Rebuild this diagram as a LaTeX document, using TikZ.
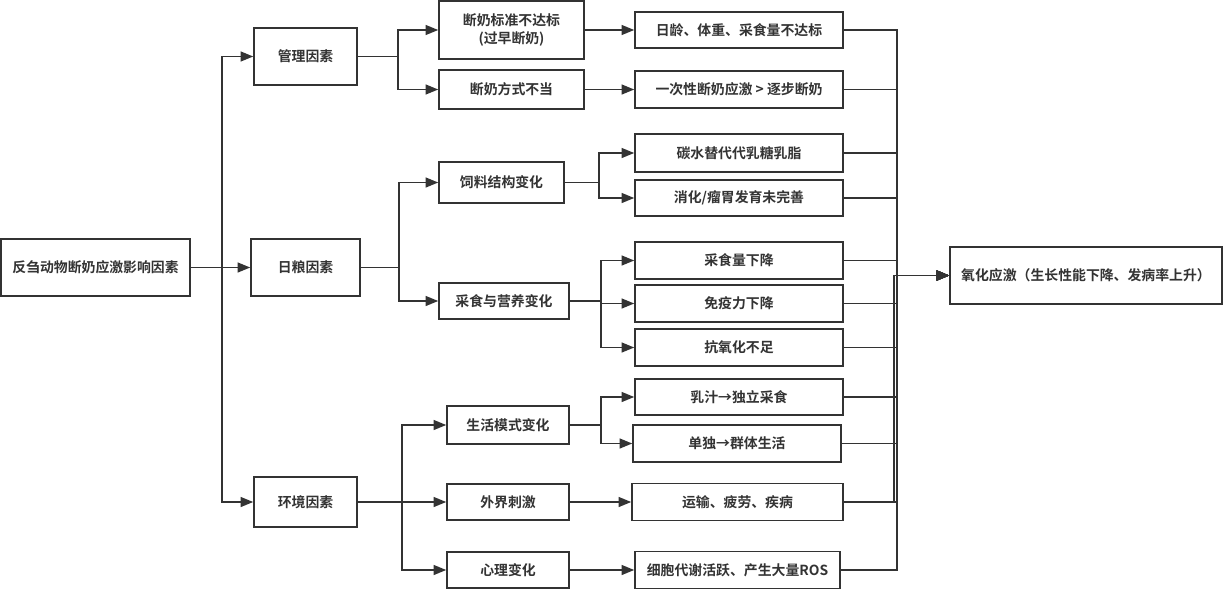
\documentclass[tikz,border=0pt]{standalone}
\usepackage{fontspec}
\setmainfont{Noto Sans CJK SC}[BoldFont={Noto Sans CJK SC Bold}]
\usetikzlibrary{arrows.meta}
\definecolor{ln}{HTML}{333333}
\tikzset{
 box/.style={draw=ln, line width=1.2pt, fill=white, inner sep=0pt, align=center,
   font=\bfseries\fontsize{10.4pt}{13pt}\selectfont, text=ln},
 wh/.style 2 args={minimum width=#1*0.75pt, minimum height=#2*0.75pt},
 conn/.style={draw=ln, line width=1.1pt},
 arr/.style={conn, -{Triangle[length=9.5pt,width=7.5pt]}},
}
\begin{document}
\begin{tikzpicture}[x=0.75pt,y=-0.75pt]
\useasboundingbox (0,0) rectangle (1224,589);
% nodes
\node[box, wh={189}{57}] (root) at (95.5,267.5) {反刍动物断奶应激影响因素};
\node[box, wh={103}{57}] (gl) at (305.5,56.5) {管理因素};
\node[box, wh={109}{57}] (rl) at (305.5,267.5) {日粮因素};
\node[box, wh={103}{50}] (hj) at (305.5,502) {环境因素};
\node[box, wh={145}{58}] (m1) at (511.5,30) {断奶标准不达标\\(过早断奶)};
\node[box, wh={145}{39}] (m2) at (511.5,89.5) {断奶方式不当};
\node[box, wh={125}{41}] (f1) at (501.5,182.5) {饲料结构变化};
\node[box, wh={130}{36}] (f2) at (504,301) {采食与营养变化};
\node[box, wh={122}{38}] (e1) at (508,425) {生活模式变化};
\node[box, wh={122}{36}] (e2) at (508,502) {外界刺激};
\node[box, wh={122}{36}] (e3) at (508,570) {心理变化};
\node[box, wh={208}{36}] (r1) at (739,30) {日龄、体重、采食量不达标};
\node[box, wh={208}{37}] (r2) at (739,89.5) {一次性断奶应激 > 逐步断奶};
\node[box, wh={208}{38}] (r3) at (739,153) {碳水替代代乳糖乳脂};
\node[box, wh={208}{36}] (r4) at (739,198) {消化/瘤胃发育未完善};
\node[box, wh={208}{37}] (r5) at (739,260.5) {采食量下降};
\node[box, wh={208}{37}] (r6) at (739,303.5) {免疫力下降};
\node[box, wh={208}{37}] (r7) at (739,347.5) {抗氧化不足};
\node[box, wh={208}{36}] (r8) at (739,397) {乳汁→独立采食};
\node[box, wh={208}{37}] (r9) at (737,443.5) {单独→群体生活};
\node[box, wh={211}{37}] (r10) at (737.5,502) {运输、疲劳、疾病};
\node[box, wh={205}{37}] (r11) at (737.5,570) {细胞代谢活跃、产生大量ROS};
\node[box, wh={272}{57}] (res) at (1086,275.5) {氧化应激（生长性能下降、发病率上升）};
% split coordinates
\coordinate (s0) at (222,0);
\coordinate (s1) at (398,0);
\coordinate (s2) at (399,0);
\coordinate (s3) at (402,0);
\coordinate (s4) at (599,0);
\coordinate (s5) at (601,0);
\coordinate (bus) at (897,0);
\coordinate (bus2) at (894,0);
% level 1
\draw[arr] (root.east) -- (s0 |- root.east) |- (gl.west);
\draw[arr] (root.east) -- (rl.west);
\draw[arr] (root.east) -- (s0 |- root.east) |- (hj.west);
% level 2
\draw[arr] (gl.east) -- (s1 |- gl.east) |- (m1.west);
\draw[arr] (gl.east) -- (s1 |- gl.east) |- (m2.west);
\draw[arr] (rl.east) -- (s2 |- rl.east) |- (f1.west);
\draw[arr] (rl.east) -- (s2 |- rl.east) |- (f2.west);
\draw[arr] (hj.east) -- (s3 |- hj.east) |- (e1.west);
\draw[arr] (hj.east) -- (e2.west);
\draw[arr] (hj.east) -- (s3 |- hj.east) |- (e3.west);
% level 3
\draw[arr] (m1.east) -- (r1.west);
\draw[arr] (m2.east) -- (r2.west);
\draw[arr] (f1.east) -- (s4 |- f1.east) |- (r3.west);
\draw[arr] (f1.east) -- (s4 |- f1.east) |- (r4.west);
\draw[arr] (f2.east) -- (s5 |- f2.east) |- (r5.west);
\draw[arr] (f2.east) -- (s5 |- f2.east) |- (r6.west);
\draw[arr] (f2.east) -- (s5 |- f2.east) |- (r7.west);
\draw[arr] (e1.east) -- (s5 |- e1.east) |- (r8.west);
\draw[arr] (e1.east) -- (s5 |- e1.east) |- (r9.west);
\draw[arr] (e2.east) -- (r10.west);
\draw[arr] (e3.east) -- (r11.west);
% to result
\foreach \n in {r1,r2,r3,r4,r5,r6,r7,r8,r9,r11}
  \draw[arr] (\n.east) -- (\n.east -| bus) |- (res.west);
\draw[arr] (r10.east) -- (r10.east -| bus) -- (r10.east -| bus2) |- (res.west);
\end{tikzpicture}
\end{document}
